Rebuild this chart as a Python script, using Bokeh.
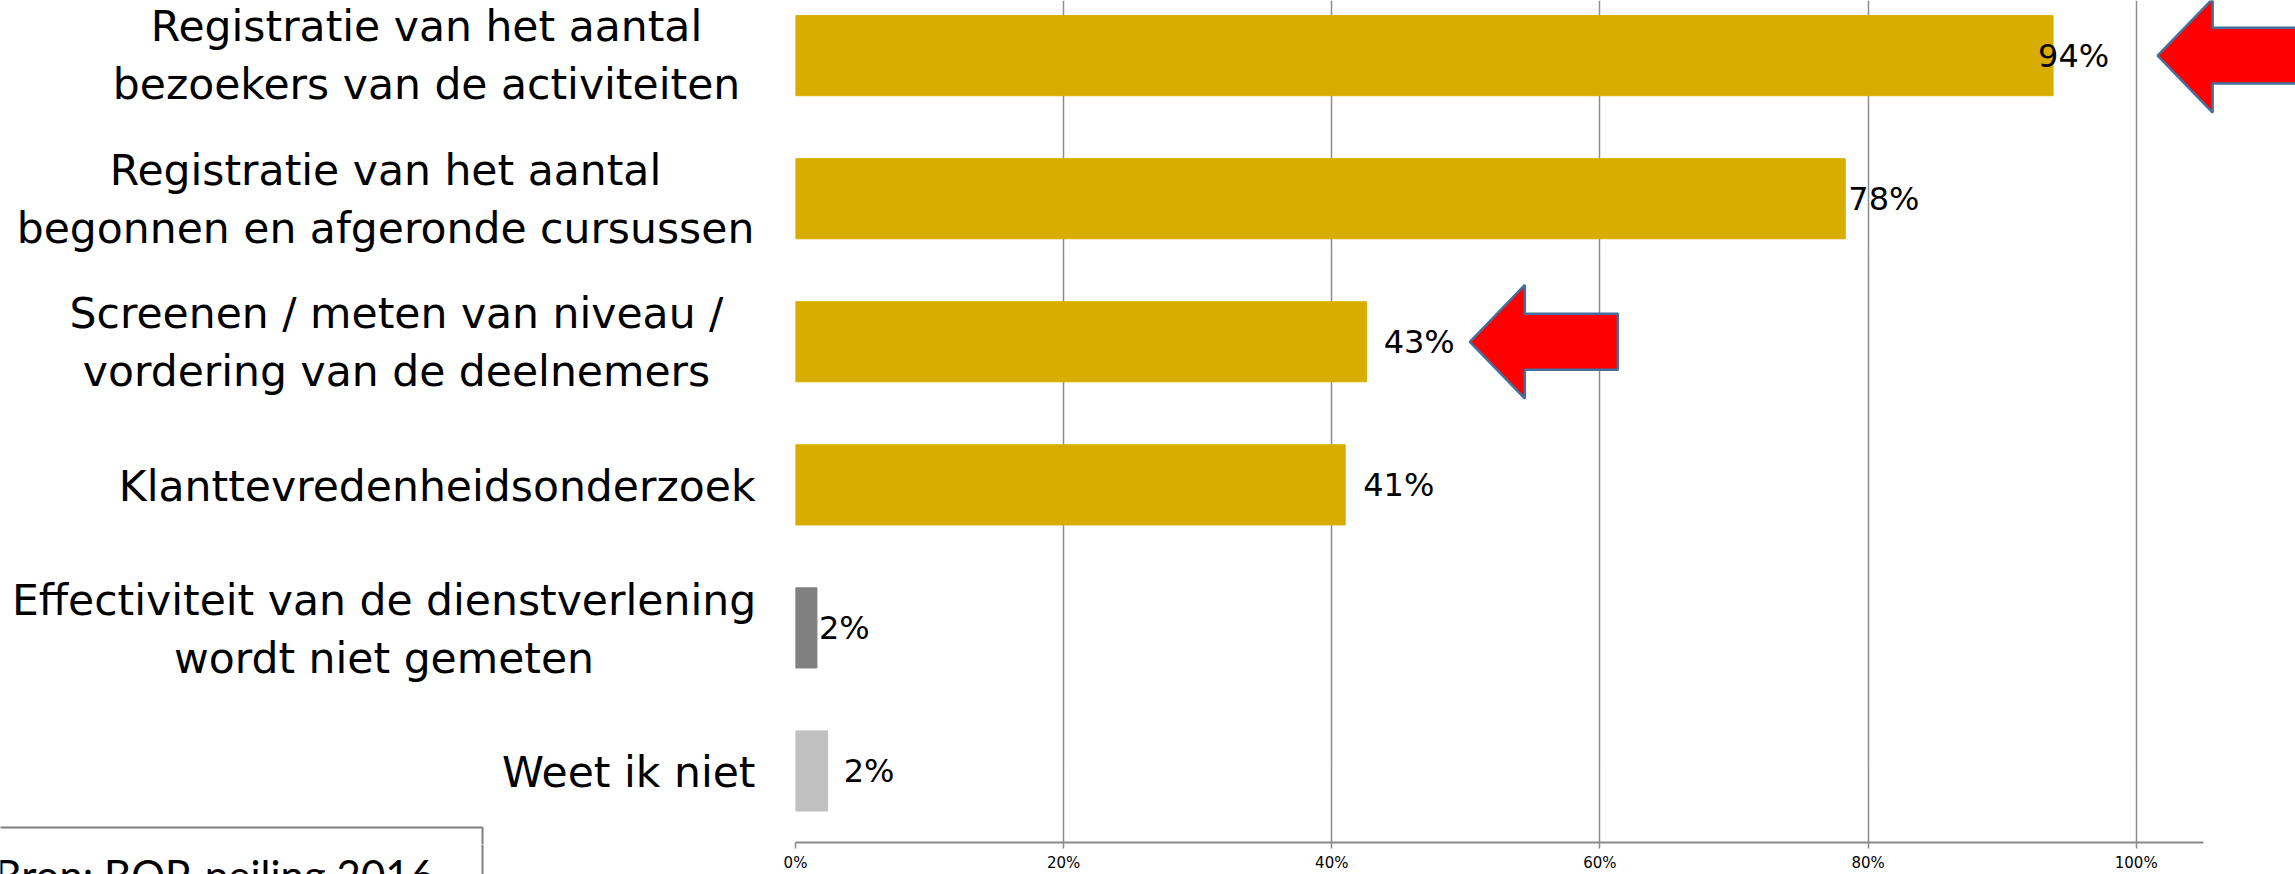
from bokeh.plotting import figure
from bokeh.layouts import row, column
from bokeh.models import Range1d, FixedTicker, NumeralTickFormatter, ColumnDataSource
from bokeh.core.properties import value
from bokeh.embed import file_html
from bokeh.resources import INLINE

# ---- data ----
categories = [
    "Registratie van het aantal\nbezoekers van de activiteiten",
    "Registratie van het aantal\nbegonnen en afgeronde cursussen",
    "Screenen / meten van niveau /\nvordering van de deelnemers",
    "Klanttevredenheidsonderzoek",
    "Effectiviteit van de dienstverlening\nwordt niet gemeten",
    "Weet ik niet",
]
values = [0.938, 0.783, 0.426, 0.41, 0.016, 0.024]
pct_labels = ["94%", "78%", "43%", "41%", "2%", "2%"]
bar_colors = ["#D8AD00", "#D8AD00", "#D8AD00", "#D8AD00", "#808080", "#C0C0C0"]
x_ticks = [0, 0.2, 0.4, 0.6, 0.8, 1.0]
source_text = "Bron: BOP-peiling 2016"
arrow_rows = [0, 2]            # which categories get a red arrow
arrow_tip_x = [1.016, 0.503]   # arrow tip in data units

# ---- style / layout ----
label_offsets = [-15, 3, 17, 18, 2, 16]   # px offsets of value labels
cat_anchor_px = [426, 385, 396, 755, 383.5, 755]
cat_align = ["center", "center", "center", "right", "center", "right"]
W, H = 2295, 874
LEFT_W = 775                     # width of the label panel
main_w = W - LEFT_W
inner_left = 20                  # gap before the plot frame (0% at x=795)
bottom_border = 30
frame_w = main_w - inner_left
frame_h = H - bottom_border
px_per_x = 1340.7
px_per_cat = 143.4
x_end = frame_w / px_per_x
n = len(categories)
ypos = [n - i for i in range(n)]
y_start = 0.5
y_end = y_start + frame_h / px_per_cat


def py_to_y(py):
    return y_end - py / px_per_cat


# ---- main chart ----
p = figure(width=main_w, height=H, output_backend="svg", toolbar_location=None,
           x_range=Range1d(0, x_end), y_range=Range1d(y_start, y_end),
           min_border_left=inner_left, min_border_right=0, min_border_top=0,
           min_border_bottom=bottom_border)
p.outline_line_color = None
p.background_fill_color = "white"
p.border_fill_color = "white"

src = ColumnDataSource(dict(y=ypos, v=values, c=bar_colors, t=pct_labels, o=label_offsets))
p.hbar(y="y", left=0, right="v", height=0.56, color="c", source=src)
p.text(x="v", y="y", text="t", x_offset="o", source=src, text_baseline="middle",
       text_align="left", text_font=value("DejaVu Sans"), text_font_size="32px",
       text_color="#000000")

for r, tx in zip(arrow_rows, arrow_tip_x):
    L = frame_w - tx * px_per_x + 20 if r == 0 else 148
    shape = [(0, 0), (55, 57), (55, 28), (L, 28), (L, -28), (55, -28), (55, -57)]
    xs = [tx + dx / px_per_x for dx, dy in shape]
    ys = [ypos[r] + dy / px_per_cat for dx, dy in shape]
    p.patch(xs, ys, fill_color="#FF0000", line_color="#41719C", line_width=2.5)

xa = p.xaxis[0]
xa.bounds = (0, 1.05)
xa.ticker = FixedTicker(ticks=x_ticks)
xa.formatter = NumeralTickFormatter(format="0%")
xa.axis_line_color = "#8A8A8A"
xa.axis_line_width = 2
xa.major_tick_line_color = "#8A8A8A"
xa.major_tick_line_width = 1.5
xa.major_tick_in = 0
xa.major_tick_out = 6
xa.minor_tick_line_color = None
xa.major_label_standoff = 5
xa.major_label_text_font = "DejaVu Sans"
xa.major_label_text_font_size = "15px"
xa.major_label_text_color = "#000000"

p.xgrid.ticker = FixedTicker(ticks=x_ticks)
p.xgrid.grid_line_color = "#8C8C8C"
p.xgrid.grid_line_width = 1.5
p.ygrid.grid_line_color = None
p.yaxis.visible = False


def blank(fig):
    fig.outline_line_color = None
    fig.background_fill_color = "white"
    fig.border_fill_color = "white"
    fig.grid.visible = False


# ---- category label panel (same vertical mapping as the chart frame) ----
q = figure(width=LEFT_W, height=frame_h, output_backend="svg", toolbar_location=None,
           x_range=Range1d(0, LEFT_W), y_range=Range1d(y_start, y_end),
           x_axis_location=None, y_axis_location=None,
           min_border_left=0, min_border_right=0, min_border_top=0, min_border_bottom=0)
blank(q)

csrc = ColumnDataSource(dict(x=cat_anchor_px, y=ypos, t=categories, a=cat_align))
q.text(x="x", y="y", text="t", text_align="a", source=csrc, text_baseline="middle",
       text_font=value("DejaVu Sans"), text_font_size="42.5px", text_color="#000000",
       text_line_height=1.18)
# upper part of the source box
q.quad(left=-20, right=482, top=py_to_y(827), bottom=py_to_y(920),
       fill_color="white", line_color="#7F7F7F", line_width=2)

# ---- source strip below the labels (page pixel coordinates) ----
s = figure(width=LEFT_W, height=H - frame_h, output_backend="svg", toolbar_location=None,
           x_range=Range1d(0, LEFT_W), y_range=Range1d(H, frame_h),
           x_axis_location=None, y_axis_location=None,
           min_border_left=0, min_border_right=0, min_border_top=0, min_border_bottom=0)
blank(s)
s.quad(left=-20, right=482, top=800, bottom=920,
       fill_color="white", line_color="#7F7F7F", line_width=2)
s.text(x=[-6], y=[874], text=[source_text], text_baseline="alphabetic",
       text_align="left", text_font=value("Lato"), text_font_size="42px",
       text_color="#000000")

layout = row(column(q, s, spacing=0), p, spacing=0)
open("out.html", "w").write(file_html(layout, INLINE))
